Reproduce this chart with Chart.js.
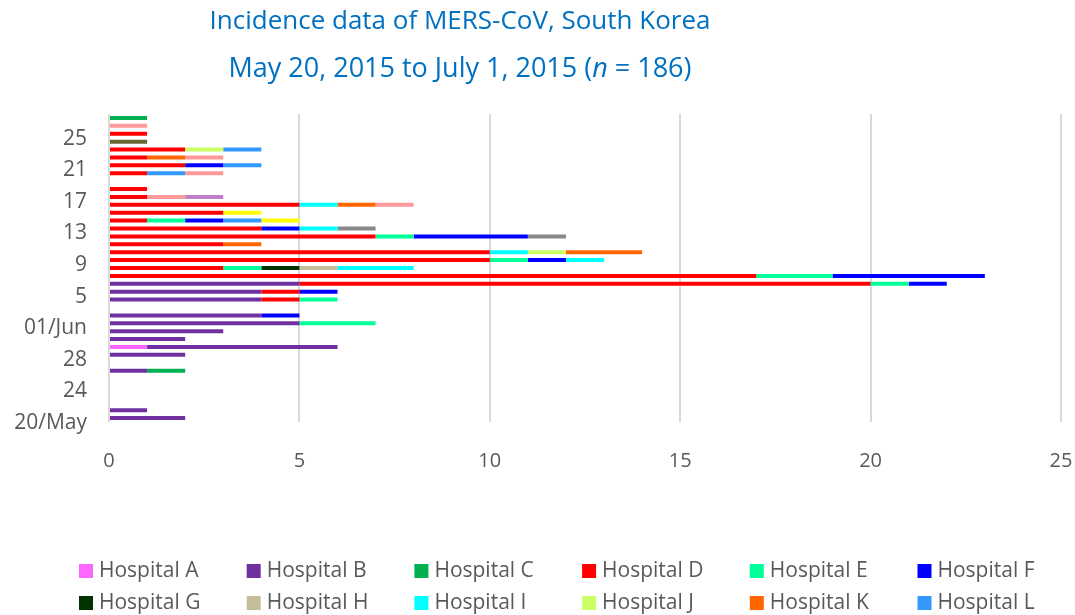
<!DOCTYPE html>
<html>
<head>
<meta charset="utf-8">
<script src="https://cdn.jsdelivr.net/npm/chart.js@4.4.1/dist/chart.umd.min.js"></script>
<style>
    body { margin: 0; background: #ffffff; }
</style>
</head>
<body>
<canvas id="mersChart" width="1075" height="615"></canvas>
<script>
// onset days, May 20 .. Jun 27 2015
const days = [
    "May 20", "May 21", "May 22", "May 23", "May 24", "May 25", "May 26", "May 27", "May 28", "May 29",
    "May 30", "May 31", "Jun 1", "Jun 2", "Jun 3", "Jun 4", "Jun 5", "Jun 6", "Jun 7", "Jun 8",
    "Jun 9", "Jun 10", "Jun 11", "Jun 12", "Jun 13", "Jun 14", "Jun 15", "Jun 16", "Jun 17", "Jun 18",
    "Jun 19", "Jun 20", "Jun 21", "Jun 22", "Jun 23", "Jun 24", "Jun 25", "Jun 26", "Jun 27"
];
const dayTickLabels = [
    "20/May", "", "", "", "24", "", "", "", "28", "",
    "", "", "01/Jun", "", "", "", "5", "", "", "",
    "9", "", "", "", "13", "", "", "", "17", "",
    "", "", "21", "", "", "", "25", "", ""
];
const xTicks = [0, 5, 10, 15, 20, 25];

const titleText = "Incidence data of MERS-CoV, South Korea";
const subtitleText = ["May 20, 2015 to July 1, 2015 (", "n", " = 186)"];

const hospitalA = [0,0,0,0,0,0,0,0,0,1, 0,0,0,0,0,0,0,0,0,0, 0,0,0,0,0,0,0,0,0,0, 0,0,0,0,0,0,0,0,0];
const hospitalB = [2,1,0,0,0,0,1,0,2,5, 2,3,5,4,0,4,4,5,0,0, 0,0,0,0,0,0,0,0,0,0, 0,0,0,0,0,0,0,0,0];
const hospitalC = [0,0,0,0,0,0,1,0,0,0, 0,0,0,0,0,0,0,0,0,0, 0,0,0,0,0,0,0,0,0,0, 0,0,0,0,0,0,0,0,1];
const hospitalD = [0,0,0,0,0,0,0,0,0,0, 0,0,0,0,0,1,1,15,17,3, 10,10,3,7,4,1,3,5,1,1, 0,1,2,1,2,0,1,0,0];
const hospitalE = [0,0,0,0,0,0,0,0,0,0, 0,0,2,0,0,1,0,1,2,1, 1,0,0,1,0,1,0,0,0,0, 0,0,0,0,0,0,0,0,0];
const hospitalF = [0,0,0,0,0,0,0,0,0,0, 0,0,0,1,0,0,1,1,4,0, 1,0,0,3,1,1,0,0,0,0, 0,0,1,0,0,0,0,0,0];
const hospitalG = [0,0,0,0,0,0,0,0,0,0, 0,0,0,0,0,0,0,0,0,1, 0,0,0,0,0,0,0,0,0,0, 0,0,0,0,0,0,0,0,0];
const hospitalH = [0,0,0,0,0,0,0,0,0,0, 0,0,0,0,0,0,0,0,0,1, 0,0,0,0,0,0,0,0,0,0, 0,0,0,0,0,0,0,0,0];
const hospitalI = [0,0,0,0,0,0,0,0,0,0, 0,0,0,0,0,0,0,0,0,2, 1,1,0,0,1,0,0,1,0,0, 0,0,0,0,0,0,0,0,0];
const hospitalJ = [0,0,0,0,0,0,0,0,0,0, 0,0,0,0,0,0,0,0,0,0, 0,1,0,0,0,0,0,0,0,0, 0,0,0,0,1,0,0,0,0];
const hospitalK = [0,0,0,0,0,0,0,0,0,0, 0,0,0,0,0,0,0,0,0,0, 0,2,1,0,0,0,0,1,0,0, 0,0,0,1,0,0,0,0,0];
const hospitalL = [0,0,0,0,0,0,0,0,0,0, 0,0,0,0,0,0,0,0,0,0, 0,0,0,0,0,1,0,0,0,0, 0,1,1,0,1,0,0,0,0];
// further hospitals that the legend leaves out
const otherSalmon = [0,0,0,0,0,0,0,0,0,0, 0,0,0,0,0,0,0,0,0,0, 0,0,0,0,0,0,0,1,1,0, 0,1,0,1,0,0,0,1,0];
const otherOrchid = [0,0,0,0,0,0,0,0,0,0, 0,0,0,0,0,0,0,0,0,0, 0,0,0,0,0,0,0,0,1,0, 0,0,0,0,0,0,0,0,0];
const otherGray   = [0,0,0,0,0,0,0,0,0,0, 0,0,0,0,0,0,0,0,0,0, 0,0,0,1,1,0,0,0,0,0, 0,0,0,0,0,0,0,0,0];
const otherYellow = [0,0,0,0,0,0,0,0,0,0, 0,0,0,0,0,0,0,0,0,0, 0,0,0,0,0,1,1,0,0,0, 0,0,0,0,0,0,0,0,0];
const otherOlive  = [0,0,0,0,0,0,0,0,0,0, 0,0,0,0,0,0,0,0,0,0, 0,0,0,0,0,0,0,0,0,0, 0,0,0,0,0,1,0,0,0];

const seriesNames = ["Hospital A", "Hospital B", "Hospital C", "Hospital D", "Hospital E", "Hospital F",
    "Hospital G", "Hospital H", "Hospital I", "Hospital J", "Hospital K", "Hospital L",
    "Other 1", "Other 2", "Other 3", "Other 4", "Other 5"];
const seriesValues = [hospitalA, hospitalB, hospitalC, hospitalD, hospitalE, hospitalF,
    hospitalG, hospitalH, hospitalI, hospitalJ, hospitalK, hospitalL,
    otherSalmon, otherOrchid, otherGray, otherYellow, otherOlive];
const seriesColors = ["#FF66FF", "#7030A0", "#00B050", "#FF0000", "#00FF99", "#0000FF",
    "#003300", "#C4BD97", "#00FFFF", "#CCFF66", "#FF6600", "#3399FF",
    "#FF9999", "#C080C8", "#888888", "#FFFF00", "#666633"];
const legendCount = 12;

const labelGrey = "#595959";
const fontFamily = "'Open Sans', sans-serif";

const headerAndKey = {
    id: "headerAndKey",
    afterDraw(chart) {
        const c = chart.ctx;
        c.save();
        c.textBaseline = "middle";
        c.fillStyle = "#0070C0";

        c.font = "26px " + fontFamily;
        c.textAlign = "center";
        c.fillText(titleText, 460, 22);

        // subtitle with italic n
        const normalFont = "27px " + fontFamily;
        const italicFont = "italic 27px " + fontFamily;
        c.textAlign = "left";
        const widths = subtitleText.map((part, i) => {
            c.font = i === 1 ? italicFont : normalFont;
            return c.measureText(part).width;
        });
        let x = 460 - widths.reduce((a, b) => a + b, 0) / 2;
        subtitleText.forEach((part, i) => {
            c.font = i === 1 ? italicFont : normalFont;
            c.fillText(part, x, 69);
            x += widths[i];
        });

        // legend grid, 6 columns by 2 rows
        c.font = "21px " + fontFamily;
        for (let i = 0; i < legendCount; i++) {
            const col = i % 6;
            const row = Math.floor(i / 6);
            const bx = 79 + col * 167.7;
            const cy = 571 + row * 32;
            c.fillStyle = seriesColors[i];
            c.fillRect(bx, cy - 7, 14, 14);
            c.fillStyle = labelGrey;
            c.fillText(seriesNames[i], bx + 20, cy);
        }
        c.restore();
    }
};

const ctx = document.getElementById("mersChart").getContext("2d");
const datasets = seriesValues.map((values, i) => {
    return {
        label: seriesNames[i],
        data: values.map((v) => (v === 0 ? null : v)),
        backgroundColor: seriesColors[i],
        borderWidth: 0,
        inflateAmount: 0,
        barThickness: 4,
    };
});

new Chart(ctx, {
    type: "bar",
    data: { labels: days, datasets: datasets },
    options: {
        indexAxis: "y",
        responsive: false,
        animation: false,
        layout: { padding: { top: 114, right: 14, bottom: 133, left: 0 } },
        plugins: {
            legend: { display: false },
            title: { display: false },
            tooltip: { enabled: false },
        },
        scales: {
            x: {
                stacked: true,
                min: xTicks[0],
                max: xTicks[xTicks.length - 1],
                afterBuildTicks(scale) {
                    scale.ticks = xTicks.map((v) => ({ value: v }));
                },
                ticks: { padding: 27, color: labelGrey, font: { family: fontFamily, size: 20 } },
                grid: { color: "#D9D9D9", lineWidth: 2, drawTicks: false },
                border: { display: false },
                afterFit(scale) {
                    scale.height = 60;
                    scale.paddingLeft = 0;
                    scale.paddingRight = 0;
                },
            },
            y: {
                stacked: true,
                reverse: true,
                grid: { display: false, drawTicks: false },
                border: { display: false },
                ticks: {
                    autoSkip: false,
                    padding: 22,
                    labelOffset: 5,
                    color: labelGrey,
                    font: { family: fontFamily, size: 21 },
                    callback: (value, index) => dayTickLabels[index] || null,
                },
                afterFit(scale) {
                    scale.width = 109;
                    scale.paddingTop = 0;
                    scale.paddingBottom = 0;
                },
            },
        },
    },
    plugins: [headerAndKey],
});
</script>
</body>
</html>
